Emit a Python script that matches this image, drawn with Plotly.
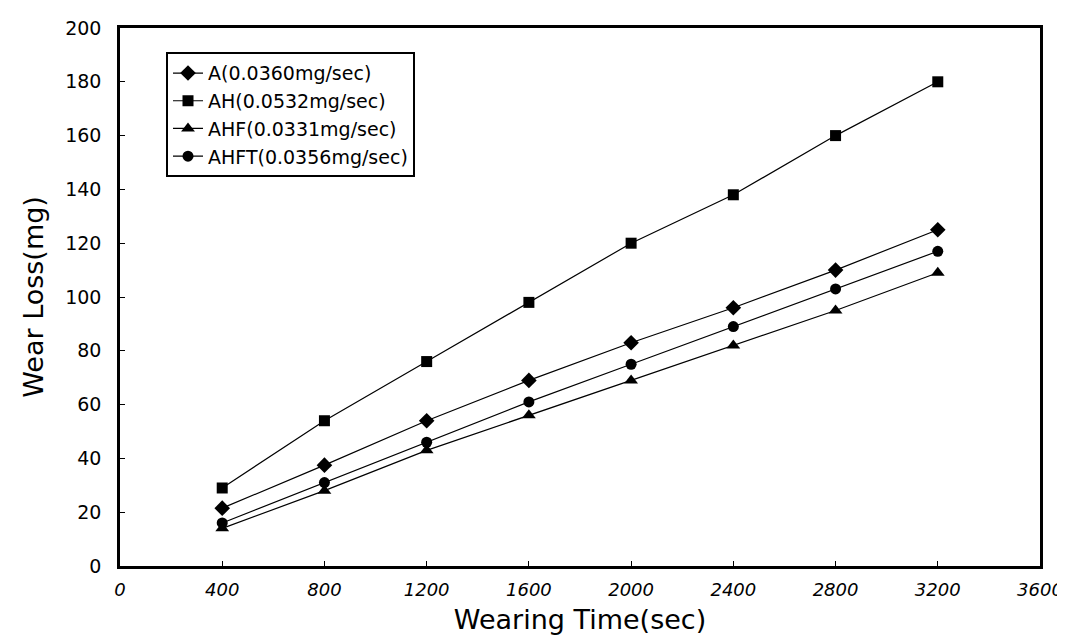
import plotly.graph_objects as go

time_sec = [400, 800, 1200, 1600, 2000, 2400, 2800, 3200]
series_names = ["A(0.0360mg/sec)", "AH(0.0532mg/sec)", "AHF(0.0331mg/sec)", "AHFT(0.0356mg/sec)"]
a_vals = [21.5, 37.5, 54, 69, 83, 96, 110, 125]
ah_vals = [29, 54, 76, 98, 120, 138, 160, 180]
ahf_vals = [14, 28, 43, 56, 69, 82, 95, 109]
ahft_vals = [16, 31, 46, 61, 75, 89, 103, 117]
x_ticks = [0, 400, 800, 1200, 1600, 2000, 2400, 2800, 3200, 3600]
y_ticks = [0, 20, 40, 60, 80, 100, 120, 140, 160, 180, 200]

symbols = ["diamond", "square", "triangle-up", "circle"]
sizes = [12, 11, 12, 11]
values = [a_vals, ah_vals, ahf_vals, ahft_vals]

fig = go.Figure()
for name, vals, sym, sz in zip(series_names, values, symbols, sizes):
    fig.add_trace(go.Scatter(
        x=time_sec, y=vals, name=name, mode="lines+markers",
        line=dict(color="black", width=1.2),
        marker=dict(symbol=sym, size=sz, color="black"),
    ))

font_family = "DejaVu Sans, Verdana, sans-serif"
fig.update_layout(
    width=1065, height=643,
    margin=dict(l=112, r=33, t=20, b=85),
    paper_bgcolor="white", plot_bgcolor="white",
    font=dict(family=font_family, color="black"),
    showlegend=True,
    legend=dict(
        x=0.05, y=0.955, xanchor="left", yanchor="top",
        bgcolor="white", bordercolor="black", borderwidth=2,
        font=dict(size=19, family=font_family, color="black"),
        tracegroupgap=0, itemwidth=30,
    ),
    xaxis=dict(
        range=[0, 3600], tickvals=x_ticks, ticktext=[f"<i>{v}</i>" for v in x_ticks],
        showgrid=False, zeroline=False, showline=True, linecolor="black", linewidth=2.5,
        mirror=True, ticks="inside", ticklen=5, tickcolor="black",
        ticklabelstandoff=6, automargin=False,
        tickfont=dict(size=18, family=font_family, color="black"),
        title=dict(text="Wearing Time(sec)", font=dict(size=27, family=font_family, color="black"), standoff=11),
    ),
    yaxis=dict(
        range=[0, 200], tickvals=y_ticks,
        showgrid=False, zeroline=False, showline=True, linecolor="black", linewidth=2.5,
        mirror=True, ticks="inside", ticklen=5, tickcolor="black",
        ticklabelstandoff=12, automargin=False,
        tickfont=dict(size=19, family=font_family, color="black"),
        title=dict(text="Wear Loss(mg)", font=dict(size=27, family=font_family, color="black"), standoff=14),
    ),
)

fig.write_html("out.html")
